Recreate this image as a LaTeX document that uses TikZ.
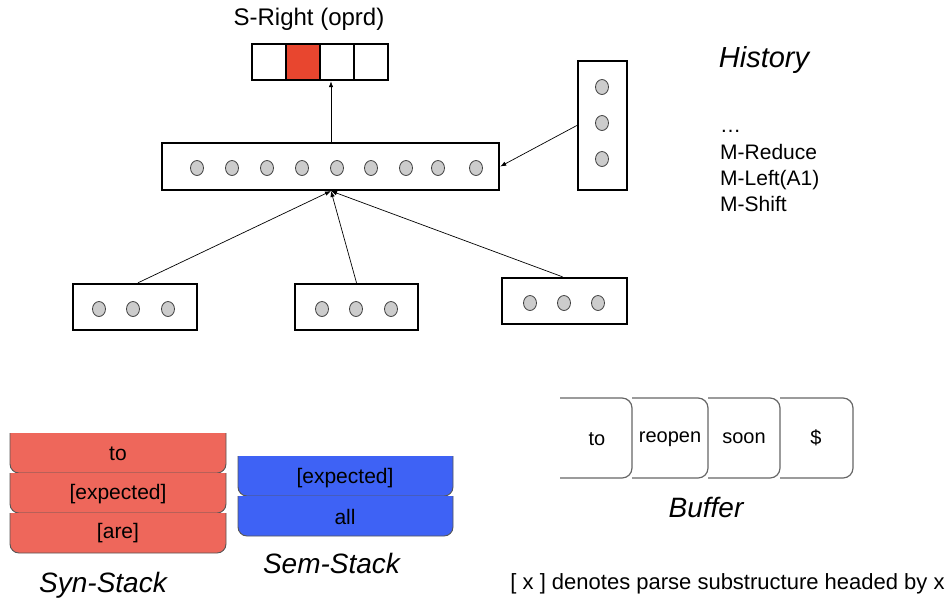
\documentclass[tikz,border=0pt]{standalone}
\usepackage{fontspec}
\setmainfont{Liberation Sans}
\usetikzlibrary{arrows.meta,shapes.geometric}

\definecolor{synred}{HTML}{EE675B}
\definecolor{semblue}{HTML}{3E62F5}
\definecolor{hotcell}{HTML}{E8462F}
\definecolor{unitgray}{HTML}{CCCCCC}
\definecolor{edgegray}{HTML}{555555}

\newcommand{\fs}[1]{\fontsize{#1}{#1}\selectfont}

\tikzset{
  netbox/.style={draw=black, line width=2.4pt, fill=white, inner sep=0pt},
  cell/.style={draw=black, line width=2.4pt, minimum width=34pt, minimum height=36pt, inner sep=0pt},
  unit/.style={ellipse, draw=black!75, fill=unitgray, line width=0.8pt,
               minimum width=13pt, minimum height=15pt, inner sep=0pt},
  feed/.style={line width=0.7pt, -{Latex[length=6pt,width=4.5pt]}},
  stackcell/.style={line width=0.9pt, draw=edgegray, rounded corners=9pt},
  bufcell/.style={line width=1.2pt, draw=black!60, rounded corners=10pt},
  word/.style={inner sep=0pt, anchor=base},
  caption/.style={inner sep=0pt, anchor=base, font=\fs{28}\itshape},
}

\begin{document}
\begin{tikzpicture}[x=1pt, y=-1pt]
\useasboundingbox (0,0) rectangle (949,603);

% ---------- output layer ----------
\node[word, font=\fs{24}] (act) at (309,25) {S-Right (oprd)};
\node[cell]                (o1) at (269,62) {};
\node[cell, fill=hotcell]  (o2) at (303,62) {};
\node[cell]                (o3) at (337,62) {};
\node[cell]                (o4) at (371,62) {};

% ---------- hidden layer ----------
\node[netbox, minimum width=337pt, minimum height=47pt] (hid) at (330.5,166.5) {};
\foreach \x [count=\i] in {197,232,267,302,337,371,406,438,476}
  \node[unit] (h\i) at (\x,168) {};

% ---------- history vector ----------
\node[netbox, minimum width=49pt, minimum height=129pt] (hv) at (602.5,125.5) {};
\foreach \y [count=\i] in {87,123,159}
  \node[unit] (hv\i) at (602,\y) {};

% ---------- input vectors ----------
\node[netbox, minimum width=124pt, minimum height=46pt] (in1) at (135,307) {};
\node[netbox, minimum width=123pt, minimum height=46pt] (in2) at (356.5,307) {};
\node[netbox, minimum width=125pt, minimum height=46pt] (in3) at (564.5,301) {};
\foreach \x [count=\i] in {99,133,168}   \node[unit] (a\i) at (\x,309) {};
\foreach \x [count=\i] in {322,356,391}  \node[unit] (b\i) at (\x,309) {};
\foreach \x [count=\i] in {530,564,598}  \node[unit] (c\i) at (\x,303) {};

% ---------- connections ----------
\coordinate (top) at (hid.north -| 331,0);
\coordinate (joint) at (331,191);
\draw[feed] (top) -- (top |- o3.south);
\draw[feed] (hv.west) -- (hid.east);
\draw[feed] (in1.north) ++(3,0) coordinate (s1) (s1) -- (joint);
\draw[feed] (in2.north) -- (joint);
\draw[feed] (in3.north) ++(-2,0) coordinate (s3) (s3) -- (joint);

% ---------- history ----------
\node[word, font=\fs{29}\itshape] (histlbl) at (764,67) {History};
\node[inner sep=0pt, anchor=base west, font=\fs{21}] (hdots) at (720,132) {\ldots};
\node[inner sep=0pt, anchor=base west, font=\fs{21}] (hred)  at (720,159.5) {M-Reduce};
\node[inner sep=0pt, anchor=base west, font=\fs{21}] (hleft) at (720,185.5) {M-Left(A1)};
\node[inner sep=0pt, anchor=base west, font=\fs{21}] (hshift) at (720,211.5) {M-Shift};

% ---------- syntactic stack ----------
\filldraw[stackcell, fill=synred] (10,433) -- (10,473) -- (226,473) -- (226,433);
\filldraw[stackcell, fill=synred] (10,473) -- (10,513) -- (226,513) -- (226,473);
\filldraw[stackcell, fill=synred] (10,513) -- (10,553) -- (226,553) -- (226,513);
\node[word, font=\fs{21}] (sy1) at (118,460) {to};
\node[word, font=\fs{21}] (sy2) at (118,499) {[expected]};
\node[word, font=\fs{21}] (sy3) at (118,538) {[are]};
\node[caption] (synlbl) at (103,592) {Syn-Stack};

% ---------- semantic stack ----------
\filldraw[stackcell, fill=semblue] (238,456) -- (238,496) -- (453,496) -- (453,456);
\filldraw[stackcell, fill=semblue] (238,496) -- (238,536) -- (453,536) -- (453,496);
\node[word, font=\fs{21}] (se1) at (345,483) {[expected]};
\node[word, font=\fs{21}] (se2) at (345,524) {all};
\node[caption] (semlbl) at (331.5,573) {Sem-Stack};

% ---------- buffer ----------
\foreach \xa/\xb in {560/632, 632/708, 708/780, 780/853}
  \draw[bufcell] (\xa,398) -- (\xb,398) -- (\xb,478) -- (\xa,478);
\node[word, font=\fs{20}] (bf1) at (597,445) {to};
\node[word, font=\fs{20}] (bf2) at (670,442) {reopen};
\node[word, font=\fs{20}] (bf3) at (744,443) {soon};
\node[word, font=\fs{20}] (bf4) at (816,444) {\$};
\node[caption] (buflbl) at (706,517) {Buffer};

% ---------- note ----------
\node[word, font=\fs{22}] (note) at (727.5,589) {[ x ] denotes parse substructure headed by x};
\end{tikzpicture}
\end{document}
